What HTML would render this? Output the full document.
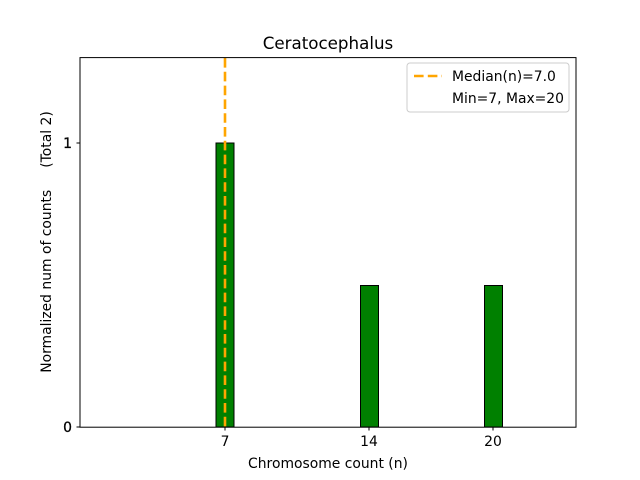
<!DOCTYPE html>
<html><head><style>body{margin:0;background:#fff}svg{display:block}text{white-space:pre}</style></head><body>
<svg width="640" height="480" xmlns="http://www.w3.org/2000/svg" font-family="DejaVu Sans, Liberation Sans, sans-serif">
<rect width="640" height="480" fill="#fff"/>
<rect x="216" y="143" width="18" height="284" fill="green" stroke="#000" stroke-width="1"/>
<rect x="360.5" y="285.5" width="18" height="141.5" fill="green" stroke="#000" stroke-width="1"/>
<rect x="484.5" y="285.5" width="18" height="141.5" fill="green" stroke="#000" stroke-width="1"/>
<line x1="225" y1="58" x2="225" y2="427" stroke="orange" stroke-width="2.6" stroke-dasharray="9.6,4.2"/>
<rect x="80" y="57.6" width="496" height="369.6" fill="none" stroke="#000" stroke-width="1"/>
<g stroke="#000">
<line x1="76.5" y1="427" x2="80" y2="427"/><line x1="76.5" y1="143" x2="80" y2="143"/>
<line x1="225" y1="427" x2="225" y2="430.5"/><line x1="369" y1="427" x2="369" y2="430.5"/><line x1="493" y1="427" x2="493" y2="430.5"/>
</g>
<g font-size="13.9" fill="#000">
<text x="72" y="432" text-anchor="end" stroke="#000" stroke-width="0.3">0</text>
<text x="72" y="148" text-anchor="end" stroke="#000" stroke-width="0.3">1</text>
<text x="225" y="446" text-anchor="middle">7</text>
<text x="369" y="446" text-anchor="middle">14</text>
<text x="493" y="446" text-anchor="middle">20</text>
<text x="328" y="468" text-anchor="middle">Chromosome count (n)</text>
<text transform="translate(51,242) rotate(-90)" text-anchor="middle" xml:space="preserve">Normalized num of counts     (Total 2)</text>
</g>
<text x="328" y="49" font-size="16.7" text-anchor="middle">Ceratocephalus</text>
<rect x="407" y="63" width="162" height="49" rx="3" fill="#fff" stroke="#ccc"/>
<line x1="414" y1="76" x2="442" y2="76" stroke="orange" stroke-width="2.6" stroke-dasharray="9.6,4.2"/>
<g font-size="13.9"><text x="452" y="81">Median(n)=7.0</text><text x="452" y="103">Min=7, Max=20</text></g>
</svg>
</body></html>
